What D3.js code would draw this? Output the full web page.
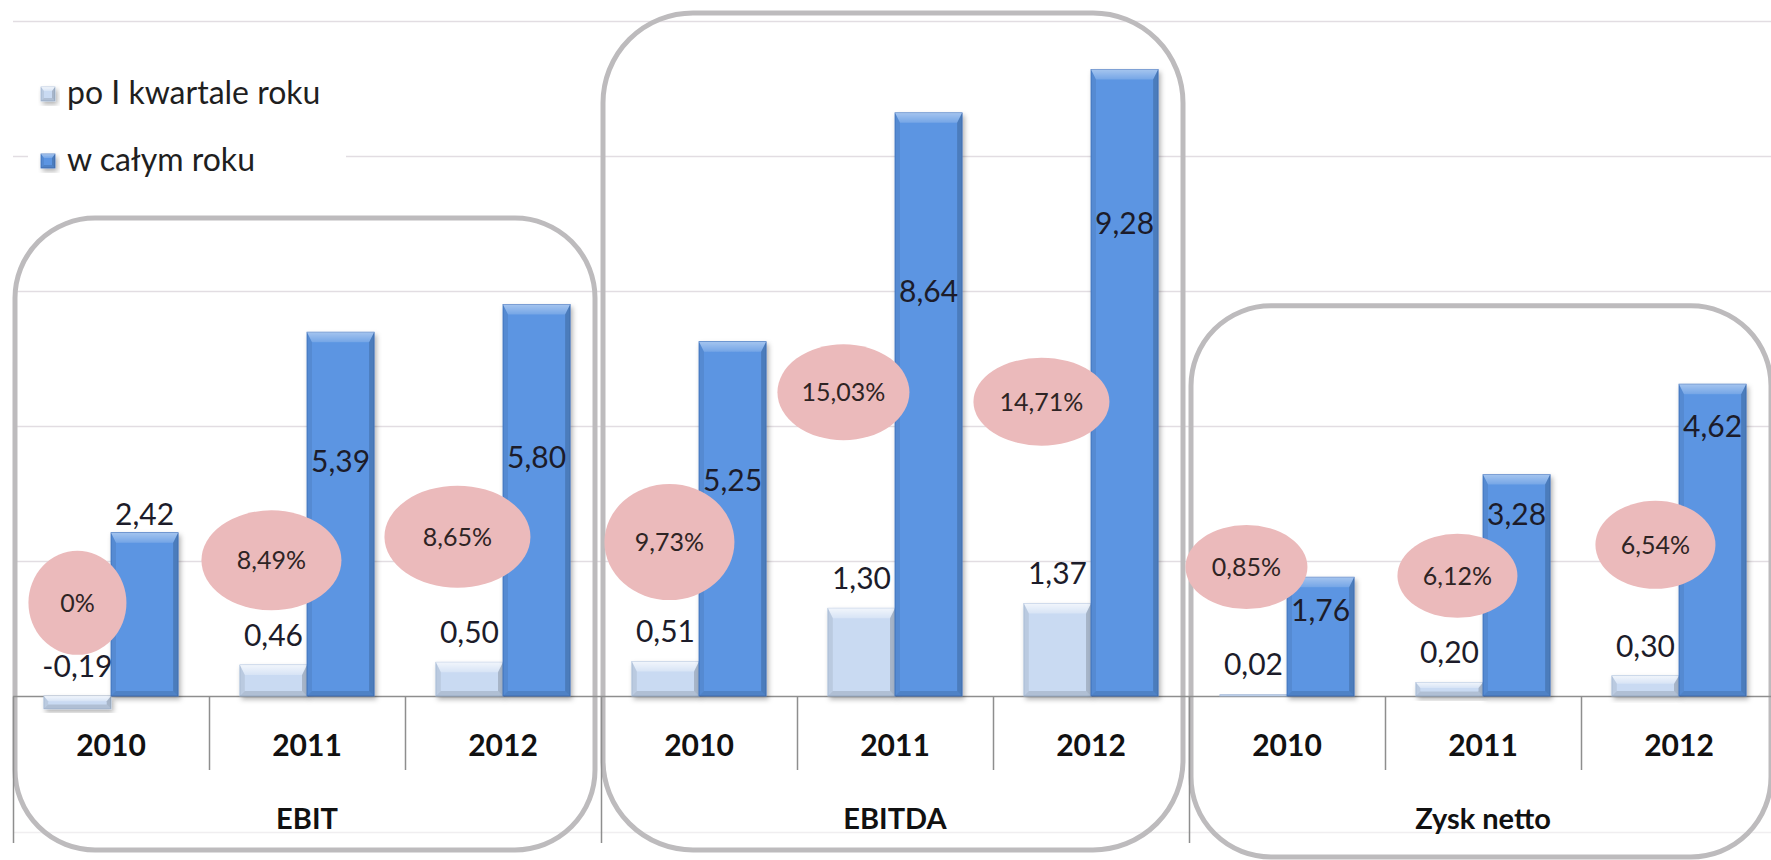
<!DOCTYPE html>
<html>
<head>
<meta charset="utf-8">
<script src="https://cdn.jsdelivr.net/npm/d3@7"></script>
<style>
  html, body { margin: 0; padding: 0; background: #ffffff; overflow: hidden; }
  svg { display: block; font-family: Lato, "Open Sans", sans-serif; }
</style>
</head>
<body>
<div id="svg-container"></div>
<script>

const WIDTH = 1771;
const HEIGHT = 860;

const GROUPS = ["EBIT", "EBITDA", "Zysk netto"];
const YEARS = ["2010", "2011", "2012"];
const SERIES = ["po I kwartale roku", "w całym roku"];

// One entry per group and year (EBIT 2010..2012, EBITDA 2010..2012, Zysk netto 2010..2012)
const FIRST_QUARTER = [-0.19, 0.46, 0.50, 0.51, 1.30, 1.37, 0.02, 0.20, 0.30];
const FULL_YEAR = [2.42, 5.39, 5.80, 5.25, 8.64, 9.28, 1.76, 3.28, 4.62];
const MARGINS = ["0%", "8,49%", "8,65%", "9,73%", "15,03%", "14,71%", "0,85%", "6,12%", "6,54%"];
const Y_TICKS = [2, 4, 6, 8, 10];

// Hand placed annotations (y in value units)
const FULL_LABEL_AT = [2.70, 3.48, 3.54, 3.20, 6.00, 7.00, 1.27, 2.70, 4.00];
const BUBBLE_AT = [1.38, 2.01, 2.36, 2.28, 4.50, 4.36, 1.91, 1.78, 2.24];
const BUBBLE_SHIFT = [0, -2, -12, 4, -18, -16, -7, 8, 10];
const BUBBLE_RADII = [[49, 52], [70, 50], [73, 51], [65, 58], [66, 48], [68, 44], [61, 42], [60, 42], [60, 44]];
const BOX_TOP_AT = [7.08, 10.12, 5.78];

const plFormat = d3.formatLocale({
  "decimal": ",", "thousands": " ", "grouping": [3], "currency": ["", " zł"], "minus": "-"
}).format(".2f");

var MarginChart = function() {

  this.keys = [];
  for(var g = 0; g < GROUPS.length; g++) {
    for(var j = 0; j < YEARS.length; j++) {
      this.keys.push(GROUPS[g] + "|" + YEARS[j]);
    }
  }

  this.x = d3.scaleBand().domain(this.keys).range([13, 13 + 196 * this.keys.length]);
  this.xs = d3.scaleBand().domain(SERIES).range([0, this.x.bandwidth()]).paddingOuter(0.46);
  this.y = d3.scaleLinear().domain([0, 10]).range([696, 21]);

  this.styles = [
    {"id": "light", "face": "#c9daf2", "edge": "#a9bddb", "top": 0.75},
    {"id": "blue", "face": "#5b95e2", "edge": "#4174c0", "top": 0.45}
  ];

  this.svg = this.CreateSVGContainer();
  this.CreateDefs();

  this.DrawGrid();
  this.DrawLegend();
  this.DrawBoxes();
  this.DrawAxis();

  // bars first, the margin bubbles sit on top of them, values on top of all
  this.bars = this.svg.append("g").attr("class", "bars");
  this.bubbles = this.svg.append("g").attr("class", "bubbles");
  this.labels = this.svg.append("g").attr("class", "labels");

  this.DrawData();
  this.DrawBubbles();

}

MarginChart.prototype.CreateSVGContainer = function() {

  return d3.select("#svg-container")
    .append("svg")
    .attr("width", WIDTH)
    .attr("height", HEIGHT);

}

MarginChart.prototype.CreateDefs = function() {

  var defs = this.svg.append("defs");

  var shadow = defs.append("filter")
    .attr("id", "bar-shadow")
    .attr("x", "-20%").attr("y", "-20%")
    .attr("width", "150%").attr("height", "150%");

  shadow.append("feDropShadow")
    .attr("dx", 2)
    .attr("dy", 3)
    .attr("stdDeviation", 2.5)
    .attr("flood-color", "#000")
    .attr("flood-opacity", 0.3);

  this.styles.forEach(function(style) {
    var grad = defs.append("linearGradient")
      .attr("id", style.id + "-top")
      .attr("x1", 0).attr("y1", 0).attr("x2", 0).attr("y2", 1);
    grad.append("stop").attr("offset", 0).attr("stop-color", "#fff").attr("stop-opacity", style.top);
    grad.append("stop").attr("offset", 1).attr("stop-color", "#fff").attr("stop-opacity", style.top * 0.35);
  });

}

MarginChart.prototype.DrawGrid = function() {

  var y = this.y;

  this.svg.append("g")
    .attr("class", "grid")
    .selectAll("line")
    .data(Y_TICKS)
    .enter().append("line")
    .attr("x1", this.x.range()[0])
    .attr("x2", WIDTH)
    .attr("y1", function(d) { return Math.round(y(d)) + 0.5; })
    .attr("y2", function(d) { return Math.round(y(d)) + 0.5; })
    .style("stroke", "#e2dde2")
    .style("stroke-width", 1.5);

  // faint line under the group names
  this.svg.append("line")
    .attr("x1", this.x.range()[0])
    .attr("x2", WIDTH)
    .attr("y1", 832.5)
    .attr("y2", 832.5)
    .style("stroke", "#f0eef0")
    .style("stroke-width", 1.5);

}

// A bar with a slanted bevel on each side
MarginChart.prototype.DrawBar = function(parent, x0, top, w, h, style, bevel) {

  var g = parent.append("g").attr("filter", "url(#bar-shadow)");

  g.append("rect")
    .attr("x", x0)
    .attr("y", top)
    .attr("width", w)
    .attr("height", h)
    .attr("fill", style.face)
    .style("stroke", style.edge)
    .style("stroke-width", 0.8);

  if(h < 4) return;

  var b = Math.min(bevel.side, h / 3);
  var t = Math.min(bevel.top, h / 2.5);
  var x1 = x0 + w;
  var bottom = top + h;

  var faces = [
    {"pts": [[x0, top], [x1, top], [x1 - b, top + t], [x0 + b, top + t]], "fill": "url(#" + style.id + "-top)"},
    {"pts": [[x0, top], [x0 + b, top + t], [x0 + b, bottom - b], [x0, bottom]], "fill": "rgba(0,0,0,0.07)"},
    {"pts": [[x1, top], [x1 - b, top + t], [x1 - b, bottom - b], [x1, bottom]], "fill": "rgba(0,0,0,0.17)"},
    {"pts": [[x0, bottom], [x0 + b, bottom - b], [x1 - b, bottom - b], [x1, bottom]], "fill": "rgba(0,0,0,0.12)"}
  ];

  g.selectAll("polygon")
    .data(faces)
    .enter().append("polygon")
    .attr("points", function(d) { return d.pts.join(" "); })
    .attr("fill", function(d) { return d.fill; });

}

MarginChart.prototype.DrawLegend = function() {

  var legend = this.svg.append("g").attr("class", "legend");

  legend.append("rect")
    .attr("x", 28)
    .attr("y", 40)
    .attr("width", 318)
    .attr("height", 150)
    .attr("fill", "#fff");

  for(var i = 0; i < SERIES.length; i++) {
    var top = 87 + i * 67;
    this.DrawBar(legend, 41, top, 14, 14, this.styles[i], {"side": 3, "top": 4});
    legend.append("text")
      .attr("x", 67)
      .attr("y", top + 17)
      .attr("font-size", 32)
      .attr("fill", "#1f1f1f")
      .text(SERIES[i]);
  }

}

MarginChart.prototype.DrawBoxes = function() {

  const BOTTOMS = [850, 850, 857];
  const RADII = [80, 90, 80];

  for(var g = 0; g < GROUPS.length; g++) {
    var left = this.x(this.keys[3 * g]);
    var right = this.x(this.keys[3 * g + 2]) + this.x.bandwidth();
    var top = this.y(BOX_TOP_AT[g]);

    this.svg.append("rect")
      .attr("x", left + 2)
      .attr("y", top)
      .attr("width", right - left - 8)
      .attr("height", BOTTOMS[g] - top)
      .attr("rx", RADII[g])
      .attr("fill", "none")
      .style("stroke", "#bdbbbd")
      .style("stroke-width", 5);
  }

}

MarginChart.prototype.DrawAxis = function() {

  var x = this.x;
  var base = Math.round(this.y(0)) + 0.5;
  var bw = x.bandwidth();
  var bounds = this.keys.map(function(k) { return x(k); }).concat([x.range()[1]]);

  var axis = this.svg.append("g").attr("class", "axis");

  axis.append("line")
    .attr("x1", x.range()[0])
    .attr("x2", WIDTH)
    .attr("y1", base)
    .attr("y2", base)
    .style("stroke", "#8e8e8e")
    .style("stroke-width", 1.5);

  axis.selectAll(".sep")
    .data(bounds)
    .enter().append("line")
    .attr("class", "sep")
    .attr("x1", function(d) { return Math.round(d) + 0.5; })
    .attr("x2", function(d) { return Math.round(d) + 0.5; })
    .attr("y1", base)
    .attr("y2", function(d, i) { return i % 3 === 0 ? 843 : 770; })
    .style("stroke", "#8e8e8e")
    .style("stroke-width", 1.5);

  axis.selectAll(".year")
    .data(this.keys)
    .enter().append("text")
    .attr("class", "year")
    .attr("x", function(d) { return x(d) + bw / 2; })
    .attr("y", 756)
    .attr("text-anchor", "middle")
    .attr("font-size", 30)
    .attr("font-weight", "bold")
    .attr("fill", "#111")
    .text(function(d) { return d.split("|")[1]; });

  axis.selectAll(".group")
    .data(GROUPS)
    .enter().append("text")
    .attr("class", "group")
    .attr("x", function(d) { return x(d + "|" + YEARS[1]) + bw / 2; })
    .attr("y", 829)
    .attr("text-anchor", "middle")
    .attr("font-size", 29)
    .attr("font-weight", "bold")
    .attr("fill", "#111")
    .text(function(d) { return d; });

}

MarginChart.prototype.BarCenter = function(i, s) {
  return this.x(this.keys[i]) + this.xs(SERIES[s]) + 0.5 * this.xs.bandwidth();
}

MarginChart.prototype.DrawBubbles = function() {

  var self = this;

  var bubbles = this.bubbles
    .selectAll("g")
    .data(MARGINS)
    .enter().append("g")
    .attr("transform", function(d, i) {
      return "translate(" + (self.BarCenter(i, 0) + BUBBLE_SHIFT[i]) + "," + self.y(BUBBLE_AT[i]) + ")";
    });

  bubbles.append("ellipse")
    .attr("rx", function(d, i) { return BUBBLE_RADII[i][0]; })
    .attr("ry", function(d, i) { return BUBBLE_RADII[i][1]; })
    .attr("fill", "#ebbabb");

  bubbles.append("text")
    .attr("text-anchor", "middle")
    .attr("dy", "0.36em")
    .attr("font-size", 25)
    .attr("fill", "#2e2424")
    .text(function(d) { return d; });

}

MarginChart.prototype.DrawData = function() {

  var w = this.xs.bandwidth();
  var y0 = this.y(0);
  var bevel = {"side": 5, "top": 10};

  for(var i = 0; i < this.keys.length; i++) {

    var values = [FIRST_QUARTER[i], FULL_YEAR[i]];

    for(var s = 0; s < SERIES.length; s++) {
      var yv = this.y(values[s]);
      var left = this.BarCenter(i, s) - 0.5 * w;
      this.DrawBar(this.bars, left, Math.min(yv, y0), w, Math.abs(yv - y0), this.styles[s], bevel);
    }

    // light bar: value just above the bar, full year: hand placed
    this.labels.append("text")
      .attr("x", this.BarCenter(i, 0))
      .attr("y", Math.min(this.y(values[0]), y0) - 30)
      .attr("dy", "0.36em")
      .attr("text-anchor", "middle")
      .attr("font-size", 30)
      .attr("fill", "#1c1c2a")
      .text(plFormat(values[0]));

    this.labels.append("text")
      .attr("x", this.BarCenter(i, 1))
      .attr("y", this.y(FULL_LABEL_AT[i]))
      .attr("dy", "0.36em")
      .attr("text-anchor", "middle")
      .attr("font-size", 30)
      .attr("fill", "#1c1c2a")
      .text(plFormat(values[1]));

  }

}

new MarginChart();

</script>
</body>
</html>
